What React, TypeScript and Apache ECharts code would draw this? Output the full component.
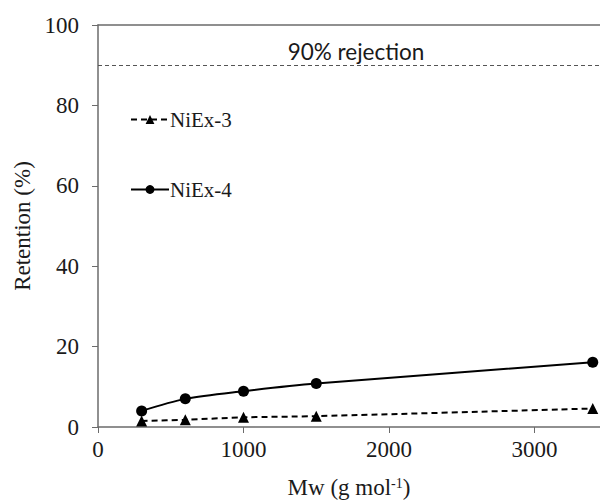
import React, { useEffect, useRef } from "react";
import * as echarts from "echarts";

const mw = [300, 600, 1000, 1500, 3400];
const niex3 = [1.5, 1.8, 2.4, 2.7, 4.6];
const niex4 = [4.0, 7.0, 8.9, 10.8, 16.1];
const seriesNames = ["NiEx-3", "NiEx-4"];
const rejectionLevel = 90;
const rejectionLabel = "90% rejection";

export default function App() {
  const ref = useRef<HTMLDivElement>(null);
  useEffect(() => {
    const chart = echarts.init(ref.current!, null, { renderer: "svg" });
    const serif = "'Times New Roman', 'Liberation Serif', Times, serif";
    const axisColor = "#6b6b6b";
    const textColor = "#1a1a1a";
    chart.setOption({
      animation: false,
      backgroundColor: "#fff",
      grid: { left: 98, right: -4, top: 25, bottom: 76 },
      legend: {
        orient: "vertical",
        left: 125,
        top: 104,
        itemGap: 49,
        itemWidth: 38,
        itemHeight: 11,
        textStyle: { fontFamily: serif, fontSize: 21, color: textColor, padding: [0, 0, 0, -4] },
        data: seriesNames,
      },
      graphic: [
        {
          type: "text",
          x: 356,
          y: 63,
          style: {
            text: rejectionLabel,
            fontFamily: "Lato, 'Open Sans', sans-serif",
            fontSize: 22.5,
            fill: textColor,
            textAlign: "center",
            textVerticalAlign: "bottom",
          },
        },
      ],
      xAxis: [
        {
          type: "value",
          min: 0,
          max: 3450,
          interval: 1000,
          name: "Mw (g mol{sup|-1})",
          nameLocation: "middle",
          nameGap: 49,
          nameTextStyle: {
            fontFamily: serif,
            fontSize: 23,
            color: textColor,
            rich: { sup: { fontFamily: serif, fontSize: 14, verticalAlign: "top", padding: [0, 0, 9, 0], color: textColor } },
          },
          axisLine: { show: true, lineStyle: { color: axisColor, width: 1.5 } },
          axisTick: { show: true, inside: false, length: 6, lineStyle: { color: axisColor } },
          axisLabel: {
            fontFamily: serif,
            fontSize: 23,
            color: textColor,
            margin: 11,
            showMaxLabel: false,
            formatter: (v: number) => String(v),
          },
          splitLine: { show: false },
        },
        {
          type: "value",
          position: "top",
          min: 0,
          max: 3450,
          axisLine: { show: true, lineStyle: { color: axisColor, width: 1.5 } },
          axisTick: { show: false },
          axisLabel: { show: false },
          splitLine: { show: false },
        },
      ],
      yAxis: {
        type: "value",
        min: 0,
        max: 100,
        interval: 20,
        name: "Retention (%)",
        nameLocation: "middle",
        nameGap: 62,
        nameTextStyle: { fontFamily: serif, fontSize: 23, color: textColor },
        axisLine: { show: true, lineStyle: { color: axisColor, width: 1.5 } },
        axisTick: { show: true, inside: false, length: 6, lineStyle: { color: axisColor } },
        axisLabel: { fontFamily: serif, fontSize: 23, color: textColor, margin: 19 },
        splitLine: { show: false },
      },
      series: [
        {
          name: seriesNames[0],
          type: "line",
          data: mw.map((x, i) => [x, niex3[i]]),
          smooth: 0.3,
          symbol: "triangle",
          symbolSize: 11,
          itemStyle: { color: "#000" },
          lineStyle: { color: "#000", width: 2, type: [6, 4] },
        },
        {
          name: seriesNames[1],
          type: "line",
          data: mw.map((x, i) => [x, niex4[i]]),
          smooth: 0.3,
          symbol: "circle",
          symbolSize: 11,
          itemStyle: { color: "#000" },
          lineStyle: { color: "#000", width: 2 },
          markLine: {
            silent: true,
            symbol: "none",
            lineStyle: { color: "#555", type: [4, 3], width: 1 },
            label: { show: false },
            data: [{ yAxis: rejectionLevel }],
          },
        },
      ],
    });
    return () => chart.dispose();
  }, []);
  return <div ref={ref} style={{ width: 600, height: 504, position: "absolute", left: 0, top: 0 }} />;
}
